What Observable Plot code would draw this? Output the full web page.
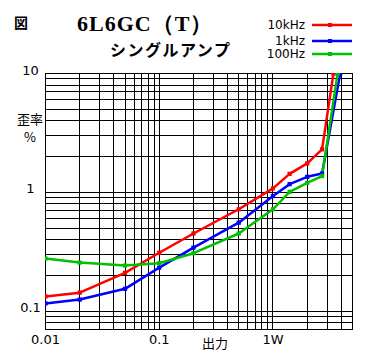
<!DOCTYPE html>
<html><head><meta charset="utf-8">
<script src="https://cdn.jsdelivr.net/npm/d3@7"></script>
<script src="https://cdn.jsdelivr.net/npm/@observablehq/plot@0.6"></script>
<style>
body{margin:0;background:#fff;}
#wrap{position:relative;width:370px;height:360px;overflow:hidden;background:#fff;}
#wrap svg.plot{position:absolute;left:0;top:0;}
.abs{position:absolute;white-space:nowrap;color:#000;line-height:1;}
.zu{left:14px;top:12px;font:bold 14px "Noto Sans CJK JP";}
.title{left:77px;top:9px;font:bold 22px "Liberation Serif";letter-spacing:1px;}
.sub{left:110px;top:37px;font:bold 16px "Noto Sans CJK JP";letter-spacing:1.5px;}
.ylab{font:13px "Noto Sans CJK JP";}
.xlab{font:13px "Noto Sans CJK JP";}
.leg{font:12px "DejaVu Sans";text-align:right;width:40px;}
</style>
</head><body>
<div id="wrap"></div>
<script>
// ---- data ----
const power     = [0.01, 0.02, 0.05, 0.1, 0.2, 0.5, 1, 1.4, 2, 2.7];
const thd10k    = [0.133, 0.143, 0.21, 0.31, 0.45, 0.72, 1.08, 1.43, 1.75, 2.3];
const thd1k     = [0.116, 0.125, 0.154, 0.232, 0.342, 0.555, 0.93, 1.17, 1.35, 1.44];
const thd100    = [0.277, 0.256, 0.242, 0.253, 0.307, 0.45, 0.72, 1.01, 1.20, 1.37];
// last point of each curve (leaves the top of the chart)
const end10k    = [3.4, 10];
const end1k     = [3.9, 10];
const end100    = [3.7, 10];
const seriesNames  = ["10kHz", "1kHz", "100Hz"];
const seriesColors = ["#ff0000", "#0000ff", "#00c000"];
const xGrid = [0.01,0.02,0.03,0.04,0.05,0.06,0.07,0.08,0.09,0.1,0.2,0.3,0.4,0.5,0.6,0.7,0.8,0.9,1,2,3,4,5];
const yGrid = [0.07,0.08,0.09,0.1,0.2,0.3,0.4,0.5,0.6,0.7,0.8,0.9,1,2,3,4,5,6,7,8,9,10];
const xTickValues = [0.01, 0.1, 1];
const xTickLabels = ["0.01", "0.1", "1W"];
const yTickValues = [10, 1, 0.1];
const yTickLabels = ["10", "1", "0.1"];

function build(name, ys, end) {
  const rows = power.map((p, i) => ({series: name, p, d: ys[i]}));
  rows.push({series: name, p: end[0], d: end[1]});
  return rows;
}
const data = [
  ...build(seriesNames[0], thd10k, end10k),
  ...build(seriesNames[1], thd1k, end1k),
  ...build(seriesNames[2], thd100, end100)
];
const xt = xTickValues.map((v, i) => ({v, t: xTickLabels[i]}));
const yt = yTickValues.map((v, i) => ({v, t: yTickLabels[i]}));

const chart = Plot.plot({
  width: 370, height: 360,
  marginLeft: 45, marginRight: 18, marginTop: 73, marginBottom: 31,
  style: {background: "transparent", fontFamily: "DejaVu Sans"},
  x: {type: "log", domain: [0.01, 5], axis: null},
  y: {type: "log", domain: [0.07, 10], axis: null},
  color: {domain: seriesNames, range: seriesColors},
  marks: [
    Plot.ruleX(xGrid, {x: d => d, stroke: "#000", strokeWidth: 1, shapeRendering: "crispEdges"}),
    Plot.ruleY(yGrid, {y: d => d, stroke: "#000", strokeWidth: 1, shapeRendering: "crispEdges"}),
    Plot.frame({stroke: "#000", shapeRendering: "crispEdges"}),
    Plot.line(data, {x: "p", y: "d", z: "series", stroke: "series", strokeWidth: 2.5, clip: true, curve: "linear"}),
    Plot.dot(data, {x: "p", y: "d", fill: "series", symbol: "square", r: 2.4, clip: true}),
    Plot.text(xt, {x: "v", text: "t", frameAnchor: "bottom", dy: 14, fontSize: 13, letterSpacing: "1.5px", fill: "#000"}),
    Plot.text(yt, {y: "v", text: "t", frameAnchor: "left", dx: -15, dy: -3, textAnchor: "middle", fontSize: 13, letterSpacing: "1.5px", fill: "#000"})
  ]
});
chart.classList.add("plot");
const wrap = document.getElementById("wrap");
wrap.appendChild(chart);

function addText(cls, txt, style) {
  const el = document.createElement("div");
  el.className = "abs " + cls;
  el.textContent = txt;
  Object.assign(el.style, style || {});
  wrap.appendChild(el);
  return el;
}
addText("zu", "図");
addText("title", "6L6GC（T）");
addText("sub", "シングルアンプ");
addText("ylab", "歪率", {left: "17px", top: "109px"});
addText("ylab", "%", {left: "24px", top: "127px"});
addText("xlab", "出力", {left: "202px", top: "333px"});

// legend
const legTops = [25, 41, 54];
seriesNames.forEach((n, i) => {
  addText("leg", n, {left: "265px", top: (legTops[i] - 7) + "px"});
  const ns = "http://www.w3.org/2000/svg";
  const s = document.createElementNS(ns, "svg");
  s.setAttribute("width", 42); s.setAttribute("height", 8);
  s.style.position = "absolute"; s.style.left = "311px"; s.style.top = (legTops[i] - 4) + "px";
  const l = document.createElementNS(ns, "line");
  l.setAttribute("x1", 1); l.setAttribute("x2", 41); l.setAttribute("y1", 4); l.setAttribute("y2", 4);
  l.setAttribute("stroke", seriesColors[i]); l.setAttribute("stroke-width", 2.5);
  const r = document.createElementNS(ns, "rect");
  r.setAttribute("x", 17); r.setAttribute("y", 2); r.setAttribute("width", 4); r.setAttribute("height", 4);
  r.setAttribute("fill", seriesColors[i]);
  s.appendChild(l); s.appendChild(r);
  wrap.appendChild(s);
});
</script>
</body></html>
